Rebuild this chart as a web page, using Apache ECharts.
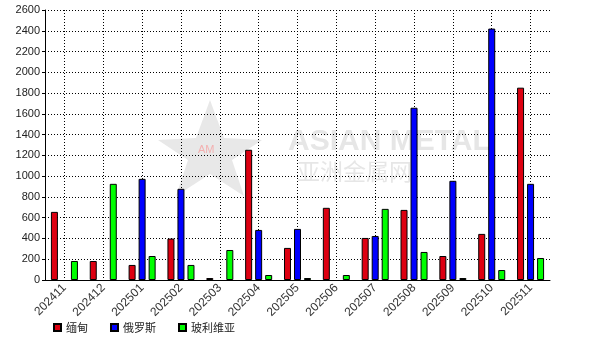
<!DOCTYPE html>
<html><head><meta charset="utf-8">
<script src="https://cdn.jsdelivr.net/npm/echarts@6/dist/echarts.min.js"></script>
<style>html,body{margin:0;padding:0;background:#fff}#c{width:590px;height:340px}</style>
</head><body><div id="c"></div>
<script>
const categories = ['202411','202412','202501','202502','202503','202504','202505','202506','202507','202508','202509','202510','202511'];
const myanmar = [656, 183, 145, 399, 19, 1254, 309, 695, 405, 675, 231, 444, 1852];
const russia = [null, null, 974, 878, null, 482, 492, null, 424, 1659, 955, 2421, 926];
const bolivia = [183, 926, 231, 145, 289, 48, 19, 48, 685, 270, 19, 96, 212];
const seriesNames = ['缅甸', '俄罗斯', '玻利维亚'];
const yTicks = {min: 0, max: 2600, interval: 200};

const chart = echarts.init(document.getElementById('c'), null, {renderer: 'canvas'});
const colors = ['#dd0011', '#0000ff', '#00ff00'];
const mk = (name, data, color) => ({
  name, type: 'bar', data, barWidth: 7, barGap: '43%',
  itemStyle: {color, borderColor: '#000', borderWidth: 1},
  emphasis: {disabled: true}
});
chart.setOption({
  animation: false,
  backgroundColor: '#fff',
  textStyle: {fontFamily: 'Arial, "Liberation Sans", "Noto Sans CJK SC", sans-serif'},
  grid: {left: 45, right: 40, top: 10, bottom: 60},
  legend: {
    left: 53, top: 322, padding: 0, itemWidth: 7, itemHeight: 7, itemGap: 22,
    icon: 'rect',
    textStyle: {fontSize: 11, color: '#222', fontFamily: '"Noto Sans CJK SC", sans-serif'},
    data: seriesNames
  },
  graphic: [
    {type: 'text', left: 288, top: 127, silent: true, z: 0,
     style: {text: 'ASIAN METAL', fontSize: 30, fontWeight: 'bold', fill: 'rgba(200,200,200,0.45)', fontFamily: 'Arial, "Liberation Sans", sans-serif'}},
    {type: 'text', left: 297, top: 160, silent: true, z: 0,
     style: {text: '亚洲金属网', fontSize: 23, fill: 'rgba(200,200,200,0.45)', fontFamily: '"Noto Sans CJK SC", sans-serif'}},
    {type: 'polygon', silent: true, z: 0,
     shape: {points: [[210,100],[224,138],[262,140],[232,160],[244,196],[210,174],[176,196],[188,160],[158,140],[196,138]]},
     style: {fill: 'rgba(190,190,190,0.35)'}},
    {type: 'text', left: 198, top: 144, silent: true, z: 0,
     style: {text: 'AM', fontSize: 11, fill: 'rgba(255,120,120,0.5)', fontFamily: 'Arial, sans-serif'}}
  ],
  xAxis: {
    type: 'category', data: categories, boundaryGap: true,
    axisLine: {lineStyle: {color: '#000', width: 1}},
    axisTick: {alignWithLabel: true, length: 4, lineStyle: {color: '#000'}},
    axisLabel: {rotate: 45, fontSize: 12, color: '#333', margin: 6, interval: 0},
    splitLine: {show: true, alignWithLabel: true, lineStyle: {color: '#000', type: [1, 2], width: 1}}
  },
  yAxis: {
    type: 'value', min: yTicks.min, max: yTicks.max, interval: yTicks.interval,
    axisLine: {show: true, lineStyle: {color: '#000', width: 1}},
    axisTick: {show: true, length: 3, lineStyle: {color: '#000'}},
    axisLabel: {fontSize: 11, color: '#222', margin: 5, formatter: v => String(v)},
    splitLine: {show: true, lineStyle: {color: '#000', type: [1, 2], width: 1}}
  },
  series: [
    mk(seriesNames[0], myanmar, colors[0]),
    mk(seriesNames[1], russia, colors[1]),
    mk(seriesNames[2], bolivia, colors[2])
  ]
});
</script></body></html>
